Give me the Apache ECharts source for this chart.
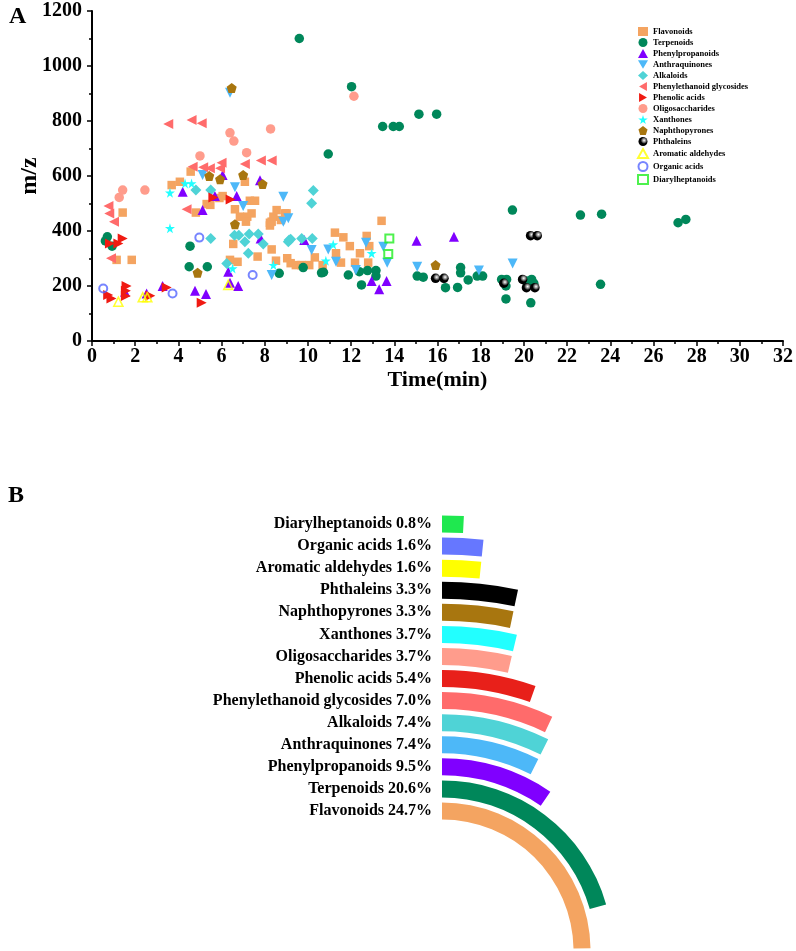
<!DOCTYPE html>
<html>
<head>
<meta charset="utf-8">
<script src="https://cdn.jsdelivr.net/npm/echarts@6/dist/echarts.min.js"></script>
<style>
    html, body { margin: 0; padding: 0; background: #fff; }
    #chart { width: 796px; height: 951px; }
</style>
</head>
<body>
<div id="chart"></div>
<script>
// 散点数据 [保留时间(min), m/z]
const flavonoids = [
    [1.14, 295], [1.42, 467], [1.84, 295],
    [3.69, 567], [4.07, 579], [4.57, 616], [4.81, 467], [5.31, 498], [5.48, 495], [5.9, 520],
    [6.05, 527], [6.62, 479], [7.08, 579], [7.31, 510], [7.55, 510], [6.85, 452], [7.19, 452],
    [7.13, 434], [7.39, 464],
    [6.54, 353], [6.39, 295], [6.74, 288], [7.67, 307], [8.32, 333],
    [8.24, 420], [8.24, 430], [8.32, 434], [8.4, 452], [8.55, 476], [8.75, 440], [8.94, 464], [9.01, 464],
    [8.52, 292], [9.04, 301], [9.2, 283], [9.44, 276], [9.7, 276], [10.06, 276], [10.32, 304], [10.68, 276],
    [11.25, 394], [11.64, 377], [11.94, 345], [11.3, 319], [11.53, 285], [12.18, 285], [12.41, 319],
    [12.72, 382], [12.84, 345], [12.79, 285], [13.41, 437]
];
const terpenoids = [
    [0.62, 364], [0.71, 379], [0.93, 345], [4.54, 345], [4.5, 270], [5.34, 270], [8.67, 246],
    [9.6, 1100], [9.78, 267], [10.63, 248], [10.72, 250], [10.94, 680], [11.87, 240], [12.02, 925],
    [12.38, 252], [12.48, 204], [12.76, 256], [13.15, 256], [13.15, 236], [13.46, 780], [13.95, 780],
    [14.23, 780], [15.06, 236], [15.14, 825], [15.34, 232], [15.96, 825], [16.37, 194], [16.93, 195],
    [17.07, 267], [17.07, 248], [17.42, 222], [17.84, 236], [18.09, 236], [18.97, 224], [19.2, 224],
    [19.17, 200], [19.17, 153], [19.47, 476], [20.12, 218], [20.32, 139], [20.36, 224], [20.46, 210],
    [22.62, 458], [23.55, 206], [23.6, 461], [27.14, 430], [27.5, 442]
];
const phenylpropanoids = [
    [1.53, 179], [2.53, 173], [3.27, 200], [4.2, 543], [4.77, 183], [5.12, 476], [5.28, 171],
    [5.69, 527], [6.05, 604], [6.31, 252], [6.39, 212], [6.7, 527], [6.77, 200], [7.78, 585],
    [7.81, 373], [9.83, 367], [12.95, 218], [13.3, 188], [13.64, 218], [15.03, 365], [16.76, 379]
];
const anthraquinones = [
    [5.12, 604], [6.39, 903], [6.62, 559], [7.0, 491], [8.32, 240], [8.86, 525], [8.86, 434],
    [9.09, 446], [10.17, 331], [10.94, 333], [11.3, 288], [12.22, 258], [12.69, 357], [13.49, 343],
    [13.67, 285], [15.06, 270], [17.92, 256], [19.48, 282]
];
const alkaloids = [
    [4.81, 549], [5.5, 549], [5.5, 373], [6.24, 282], [6.6, 385], [6.8, 385], [7.08, 361],
    [7.24, 319], [7.28, 389], [7.7, 389], [7.93, 353], [9.09, 361], [9.13, 367], [9.2, 370],
    [9.71, 373], [10.2, 373], [10.17, 501], [10.25, 547]
];
const phenylethanoids = [
    [0.76, 491], [0.8, 464], [0.88, 301], [1.02, 434], [3.53, 789], [4.38, 479], [4.61, 804],
    [4.66, 634], [5.08, 792], [5.15, 632], [5.46, 628], [5.93, 628], [6.0, 648], [7.08, 644],
    [7.82, 656], [8.32, 656]
];
const phenolicAcids = [
    [0.75, 167], [0.83, 355], [0.9, 155], [1.22, 355], [1.42, 373], [1.57, 164], [1.57, 183],
    [1.6, 200], [2.7, 165], [3.46, 195], [5.08, 139], [5.62, 522], [6.42, 515]
];
const oligosaccharides = [
    [1.26, 522], [1.42, 549], [2.45, 549], [5.0, 673], [6.39, 757], [6.57, 727], [7.16, 685],
    [8.27, 771], [12.13, 890]
];
const xanthones = [
    [3.61, 539], [3.61, 410], [4.31, 573], [4.61, 573], [6.51, 264], [8.4, 276], [10.83, 292],
    [11.17, 351], [12.95, 319]
];
const naphthopyrones = [
    [4.89, 248], [5.43, 600], [5.93, 588], [6.47, 920], [6.62, 425], [7.0, 604], [7.9, 571], [15.91, 276]
];
const phthaleins = [
    [15.91, 228], [16.3, 228], [19.07, 210], [19.94, 224], [20.12, 194], [20.31, 383], [20.51, 194], [20.62, 383]
];
const aromaticAldehydes = [[1.22, 143], [2.35, 159], [2.56, 159], [6.31, 204]];
const organicAcids = [[0.52, 191], [3.73, 173], [4.97, 376], [7.44, 240]];
const diarylheptanoids = [[13.72, 316], [13.77, 373]];

// 环形柱图数据（由内向外）
const classNames = [
    'Flavonoids', 'Terpenoids', 'Phenylpropanoids', 'Anthraquinones', 'Alkaloids',
    'Phenylethanoid glycosides', 'Phenolic acids', 'Oligosaccharides', 'Xanthones',
    'Naphthopyrones', 'Phthaleins', 'Aromatic aldehydes', 'Organic acids', 'Diarylheptanoids'
];
const classPercents = [24.7, 20.6, 9.5, 7.4, 7.4, 7.0, 5.4, 3.7, 3.7, 3.3, 3.3, 1.6, 1.6, 0.8];
const classColors = [
    '#f4a461', '#00875a', '#8000ff', '#4db8f8', '#4fd3d6', '#ff6b6b', '#e8201a',
    '#ff9c8c', '#22ffff', '#a8760f', '#000000', '#ffff00', '#6677ff', '#1fe84f'
];

const serif = '"Liberation Serif", "Times New Roman", serif';
const starPath = 'path://M50,0 L61,35 L98,35 L68,57 L79,91 L50,70 L21,91 L32,57 L2,35 L39,35 Z';
const pentagonPath = 'path://M50,0 L98,36 L80,95 L20,95 L2,36 Z';
const downTriPath = 'path://M0,0 L100,0 L50,87 Z';
const leftTriPath = 'path://M87,0 L87,100 L0,50 Z';
const rightTriPath = 'path://M0,0 L87,50 L0,100 Z';

function scatter(name, data, symbol, color, opts) {
    return Object.assign({
        name: name,
        type: 'scatter',
        data: data,
        symbol: symbol,
        symbolSize: 9,
        itemStyle: { color: color, opacity: 1 }
    }, opts || {});
}

const chart = echarts.init(document.getElementById('chart'));

const option = {
    backgroundColor: '#fff',
    animation: false,
    title: [
        { text: 'A', left: 4, top: 0, textStyle: { fontFamily: serif, fontSize: 24, fontWeight: 'bold', color: '#000' } },
        { text: 'B', left: 3, top: 479, textStyle: { fontFamily: serif, fontSize: 24, fontWeight: 'bold', color: '#000' } }
    ],
    legend: {
        orient: 'vertical',
        left: 632,
        top: 22,
        itemWidth: 10,
        itemHeight: 9,
        itemGap: 2,
        textStyle: { fontFamily: serif, fontSize: 8.5, fontWeight: 'bold', color: '#000', lineHeight: 9 },
        data: classNames.slice()
    },
    grid: { left: 92, right: 13, top: 11, bottom: 610, outerBoundsMode: 'none' },
    xAxis: {
        type: 'value',
        min: 0,
        max: 32,
        interval: 2,
        name: 'Time(min)',
        nameLocation: 'middle',
        nameGap: 28,
        nameMoveOverlap: false,
        nameTextStyle: { fontFamily: serif, fontSize: 22, fontWeight: 'bold', color: '#000' },
        axisLine: { lineStyle: { color: '#000', width: 2 } },
        axisTick: { inside: false, length: 5, lineStyle: { color: '#000', width: 1.5 } },
        minorTick: { show: true, splitNumber: 2, length: 3, lineStyle: { color: '#000', width: 1.5 } },
        axisLabel: { fontFamily: serif, fontSize: 20, fontWeight: 'bold', color: '#000', margin: 6 },
        splitLine: { show: false }
    },
    yAxis: {
        type: 'value',
        min: 0,
        max: 1200,
        interval: 200,
        name: 'm/z',
        nameLocation: 'middle',
        nameGap: 50,
        nameMoveOverlap: false,
        nameTextStyle: { fontFamily: serif, fontSize: 24, fontWeight: 'bold', color: '#000' },
        axisLine: { show: true, lineStyle: { color: '#000', width: 2 } },
        axisTick: { show: true, inside: false, length: 5, lineStyle: { color: '#000', width: 1.5 } },
        minorTick: { show: true, splitNumber: 2, length: 3, lineStyle: { color: '#000', width: 1.5 } },
        axisLabel: {
            fontFamily: serif, fontSize: 20, fontWeight: 'bold', color: '#000', margin: 10,
            formatter: v => String(v)
        },
        splitLine: { show: false }
    },
    polar: {
        center: [442, 951],
        radius: [129, 438]
    },
    angleAxis: {
        type: 'value',
        min: 0,
        max: 100,
        startAngle: 90,
        clockwise: true,
        show: false
    },
    radiusAxis: {
        type: 'category',
        data: classNames,
        axisLine: { show: false },
        axisTick: { show: false },
        splitLine: { show: false },
        axisLabel: {
            interval: 0,
            margin: 10,
            fontFamily: serif,
            fontSize: 16,
            fontWeight: 'bold',
            color: '#000',
            formatter: (val, idx) => val + ' ' + classPercents[idx].toFixed(1) + '%'
        }
    },
    series: [
        scatter('Flavonoids', flavonoids, 'rect', '#f4a461', { symbolSize: 8.5 }),
        scatter('Terpenoids', terpenoids, 'circle', '#00875a', { symbolSize: 9.5 }),
        scatter('Phenylpropanoids', phenylpropanoids, 'triangle', '#8000ff', { symbolSize: 10 }),
        scatter('Anthraquinones', anthraquinones, downTriPath, '#4db8f8', { symbolSize: 10 }),
        scatter('Alkaloids', alkaloids, 'diamond', '#4fd3d6', { symbolSize: 11 }),
        scatter('Phenylethanoid glycosides', phenylethanoids, leftTriPath, '#ff6b6b', { symbolSize: 10 }),
        scatter('Phenolic acids', phenolicAcids, rightTriPath, '#f01a12', { symbolSize: 10 }),
        scatter('Oligosaccharides', oligosaccharides, 'circle', '#ff9c8c', { symbolSize: 9.5 }),
        scatter('Xanthones', xanthones, starPath, '#22ffff', { symbolSize: 10 }),
        scatter('Naphthopyrones', naphthopyrones, pentagonPath, '#a8760f', { symbolSize: 10 }),
        scatter('Phthaleins', phthaleins, 'circle', {
            type: 'radial', x: 0.62, y: 0.38, r: 0.62,
            colorStops: [
                { offset: 0, color: '#ffffff' },
                { offset: 0.35, color: '#777777' },
                { offset: 0.6, color: '#000000' },
                { offset: 1, color: '#000000' }
            ]
        }, { symbolSize: 9.5 }),
        scatter('Aromatic aldehydes', aromaticAldehydes, 'triangle', 'rgba(255,255,255,0)', {
            symbolSize: 9,
            itemStyle: { color: 'rgba(255,255,255,0)', borderColor: '#ffff00', borderWidth: 1.6 }
        }),
        scatter('Organic acids', organicAcids, 'circle', 'rgba(255,255,255,0)', {
            symbolSize: 8,
            itemStyle: { color: 'rgba(255,255,255,0)', borderColor: '#5566ff', borderWidth: 2 }
        }),
        scatter('Diarylheptanoids', diarylheptanoids, 'rect', 'rgba(255,255,255,0)', {
            symbolSize: 8,
            itemStyle: { color: 'rgba(255,255,255,0)', borderColor: '#22ee22', borderWidth: 2 }
        }),
        {
            type: 'bar',
            coordinateSystem: 'polar',
            barWidth: 17,
            data: classPercents.map((v, i) => ({ value: v, itemStyle: { color: classColors[i] } }))
        }
    ]
};

chart.setOption(option);
</script>
</body>
</html>
